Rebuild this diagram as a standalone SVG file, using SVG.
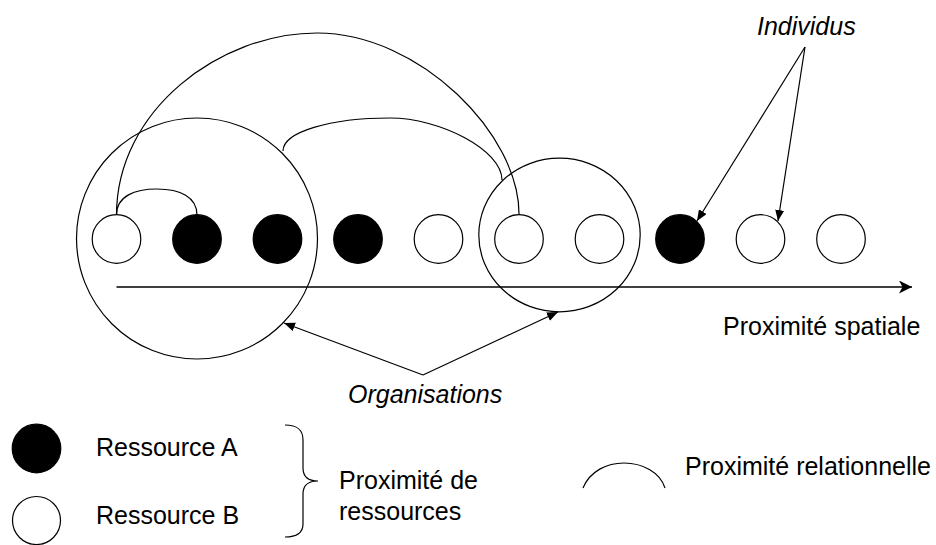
<svg xmlns="http://www.w3.org/2000/svg" width="936" height="545" viewBox="0 0 936 545">
<style>
.ind{stroke:#000;stroke-width:1.2}
.w{fill:#fff}
.b{fill:#000}
.ln{fill:none;stroke:#000;stroke-width:1.2}
.t{font-family:"Liberation Sans",Arial,sans-serif;font-size:25px;fill:#000}
.it{font-style:italic}
</style>
<defs>
<marker id="ah" markerUnits="userSpaceOnUse" markerWidth="12" markerHeight="10" refX="11" refY="4.5" orient="auto">
<path d="M0,0 L11,4.5 L0,9 z" fill="#000"/>
</marker>
<marker id="axh" markerUnits="userSpaceOnUse" markerWidth="14" markerHeight="14" refX="13" refY="6.5" orient="auto">
<path d="M0,0 L13,6.5 L0,13 L3.5,6.5 z" fill="#000"/>
</marker>
</defs>
<rect width="936" height="545" fill="#fff"/>

<g id="organisations">
<circle id="org1" cx="197" cy="238.5" r="120.5" class="ln"/>
<ellipse id="org2" cx="559.5" cy="235" rx="80.7" ry="76.8" class="ln"/>
</g>

<g id="axis">
<line x1="116.5" y1="287" x2="912" y2="287" stroke="#000" stroke-width="1.4" marker-end="url(#axh)"/>
</g>

<g id="connectors">
<path class="ln" d="M116.5,215 C116.5,196 135,189 157,189 C180,189 197,197 197,215"/>
<path class="ln" d="M116.5,215 C116.5,110 220,33 317,33 C420,33 520,135 519,215"/>
<path class="ln" d="M283,151 C283,132 330,118 390,118 C440,118 502,150 502,180"/>
<line x1="805" y1="47" x2="697" y2="221" class="ln" marker-end="url(#ah)"/>
<line x1="805" y1="47" x2="778" y2="221" class="ln" marker-end="url(#ah)"/>
<line x1="423" y1="375" x2="284" y2="323" class="ln" marker-end="url(#ah)"/>
<line x1="423" y1="375" x2="558" y2="312" class="ln" marker-end="url(#ah)"/>
</g>

<g id="individus">
<circle id="n1" cx="116.5" cy="239" r="24.3" class="ind w"/>
<circle id="n2" cx="197" cy="239" r="24.3" class="ind b"/>
<circle id="n3" cx="277.5" cy="239" r="24.3" class="ind b"/>
<circle id="n4" cx="358" cy="239" r="24.3" class="ind b"/>
<circle id="n5" cx="438.5" cy="239" r="24.3" class="ind w"/>
<circle id="n6" cx="519" cy="239" r="24.3" class="ind w"/>
<circle id="n7" cx="599.5" cy="239" r="24.3" class="ind w"/>
<circle id="n8" cx="680" cy="239" r="24.3" class="ind b"/>
<circle id="n9" cx="760.5" cy="239" r="24.3" class="ind w"/>
<circle id="n10" cx="841" cy="239" r="24.3" class="ind w"/>
</g>

<g id="labels">
<text class="t it" x="757" y="35">Individus</text>
<text class="t" x="723" y="335">Proximité spatiale</text>
<text class="t it" x="348" y="403">Organisations</text>
</g>

<g id="legend">
<circle cx="36.5" cy="448.5" r="24.3" class="ind b"/>
<circle cx="36.5" cy="520.5" r="24" class="ind w"/>
<text class="t" x="96" y="456">Ressource A</text>
<text class="t" x="96" y="524">Ressource B</text>
<path class="ln" d="M285,425 C298,425 303,430 303,440 L303,468 C303,476 308,481 318,481 C308,481 303,486 303,494 L303,524 C303,532 298,537 285,537"/>
<text class="t" x="339" y="489">Proximité de</text>
<text class="t" x="339" y="520">ressources</text>
<path class="ln" d="M583,488 C590,471 607,463 624,463 C642,463 660,472 665,488"/>
<text class="t" x="685" y="475">Proximité relationnelle</text>
</g>
</svg>
